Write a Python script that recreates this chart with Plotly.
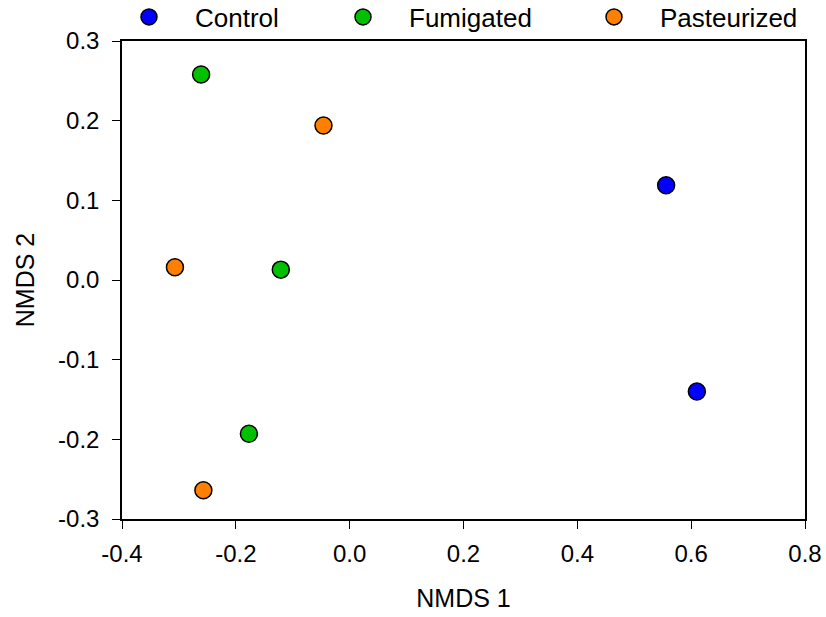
import plotly.graph_objects as go

groups = ["Control", "Fumigated", "Pasteurized"]
colors = ["#0000FF", "#00C000", "#FF8000"]
control_x = [0.556, 0.610]
control_y = [0.119, -0.140]
fumigated_x = [-0.261, -0.121, -0.177]
fumigated_y = [0.258, 0.013, -0.193]
pasteurized_x = [-0.046, -0.307, -0.257]
pasteurized_y = [0.194, 0.016, -0.264]
x_ticks = [-0.4, -0.2, 0.0, 0.2, 0.4, 0.6, 0.8]
x_labels = ["-0.4", "-0.2", "0.0", "0.2", "0.4", "0.6", "0.8"]
y_ticks = [-0.3, -0.2, -0.1, 0.0, 0.1, 0.2, 0.3]
y_labels = ["-0.3", "-0.2", "-0.1", "0.0", "0.1", "0.2", "0.3"]

xs = [control_x, fumigated_x, pasteurized_x]
ys = [control_y, fumigated_y, pasteurized_y]

FONT = "Liberation Sans, Arial, sans-serif"
W, H = 826, 617
legend_ids = ["legend", "legend2", "legend3"]
legend_left_px = [103, 317, 568]

fig = go.Figure()
for name, col, x, y, lid in zip(groups, colors, xs, ys, legend_ids):
    fig.add_trace(go.Scatter(
        x=x, y=y, mode="markers", name=name, legend=lid,
        marker=dict(color=col, size=17, line=dict(color="black", width=1.5)),
    ))

axis_common = dict(
    showline=True, linecolor="black", linewidth=1.5, mirror=True,
    showgrid=False, zeroline=False,
    ticks="outside", ticklen=8, tickwidth=1.2, tickcolor="black",
    tickfont=dict(family=FONT, size=24, color="black"),
)

legend_layout = {}
for lid, lx in zip(legend_ids, legend_left_px):
    legend_layout[lid] = dict(
        orientation="h", x=lx / W, y=1 - 17 / H, xref="container", yref="container",
        xanchor="left", yanchor="middle", font=dict(family=FONT, size=26, color="black"),
        itemwidth=82, bgcolor="rgba(0,0,0,0)", borderwidth=0,
    )

fig.update_layout(
    width=W, height=H,
    margin=dict(l=122, r=21, t=41, b=98, autoexpand=False),
    paper_bgcolor="white", plot_bgcolor="white",
    font=dict(family=FONT, size=24, color="black"),
    showlegend=True,
    xaxis=dict(range=[-0.4, 0.8], tickvals=x_ticks, ticktext=x_labels,
               ticklabelstandoff=4,
               title=dict(text="NMDS 1", font=dict(family=FONT, size=25), standoff=24),
               **axis_common),
    yaxis=dict(range=[-0.3, 0.3], tickvals=y_ticks, ticktext=y_labels,
               ticklabelstandoff=8,
               title=dict(text="NMDS 2", font=dict(family=FONT, size=25), standoff=16),
               **axis_common),
    **legend_layout,
)

fig.write_html("out.html")
